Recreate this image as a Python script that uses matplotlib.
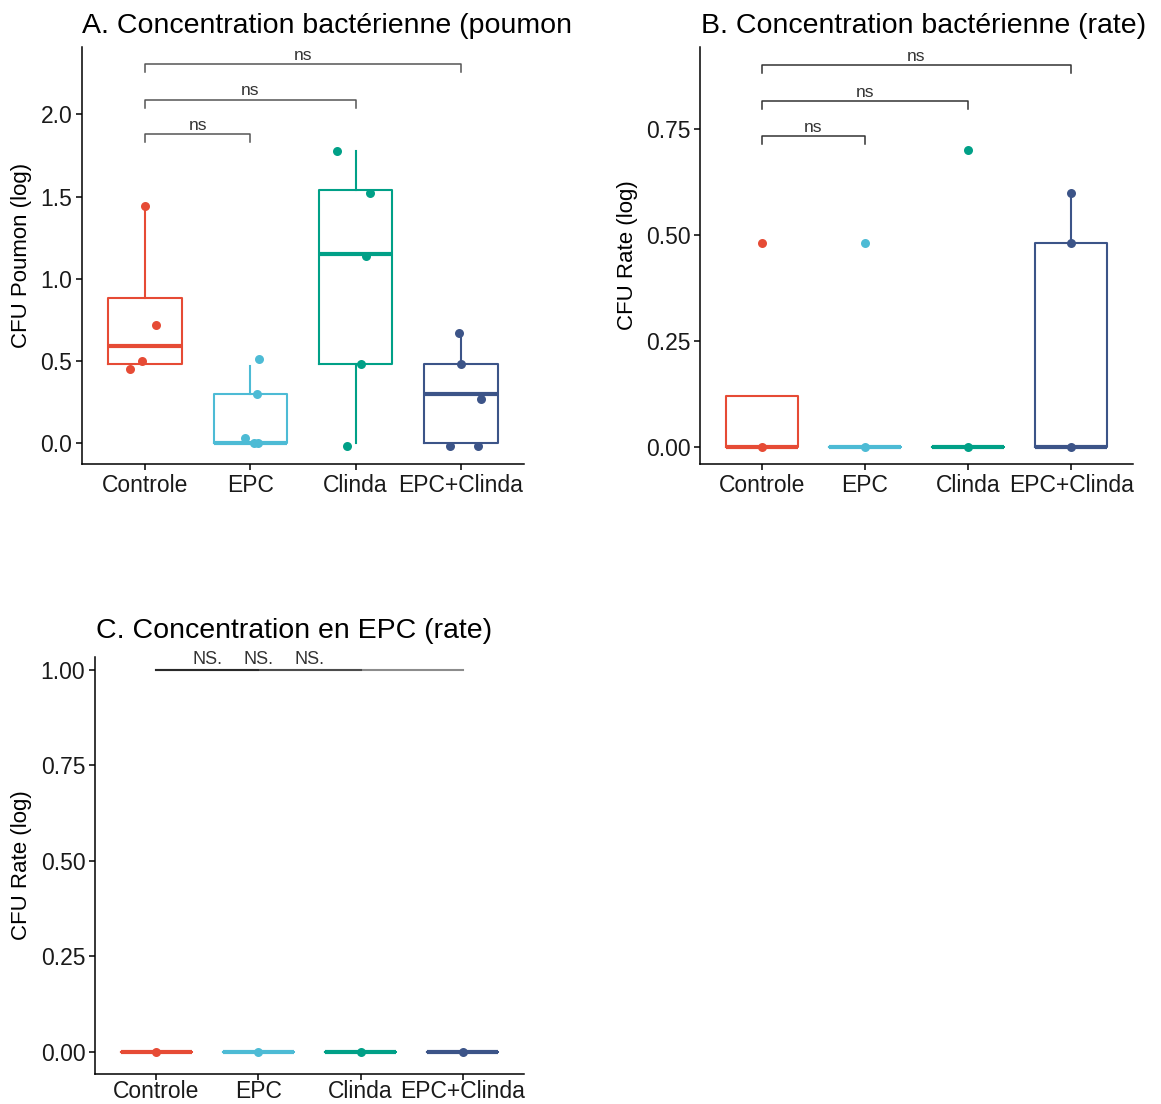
import numpy as np
import matplotlib.pyplot as plt
from matplotlib.transforms import Bbox, TransformedBbox

plt.rcParams['font.family'] = ['Liberation Sans', 'DejaVu Sans']

groupes = ['Controle', 'EPC', 'Clinda', 'EPC+Clinda']
couleurs = ['#E64B35', '#4DBBD5', '#00A087', '#3C5488']
paires = [(1, 2), (1, 3), (1, 4)]

# A. poumon
a_points = [[1.44, 0.72, 0.50, 0.45], [0.51, 0.30, 0.03, 0.0, 0.0],
            [1.78, 1.52, 1.14, 0.48, -0.02], [0.67, 0.48, 0.27, -0.02, -0.02]]
a_jitter = [[0.0, 0.10, -0.03, -0.14], [0.08, 0.06, -0.05, 0.03, 0.07],
            [-0.18, 0.14, 0.10, 0.05, -0.08], [-0.02, 0.0, 0.19, -0.10, 0.16]]
a_whislo = [0.48, 0.0, 0.0, 0.0]
a_q1 = [0.48, 0.0, 0.48, 0.0]
a_med = [0.59, 0.0, 1.15, 0.30]
a_q3 = [0.88, 0.30, 1.54, 0.48]
a_whishi = [1.44, 0.47, 1.78, 0.67]
a_crochets = [1.88, 2.09, 2.305]

# B. rate bactérienne
b_points = [[0.48, 0.0], [0.48, 0.0], [0.70, 0.0], [0.60, 0.48, 0.0]]
b_jitter = [[0.0, 0.0], [0.0, 0.0], [0.0, 0.0], [0.0, 0.0, 0.0]]
b_whislo = [0.0, 0.0, 0.0, 0.0]
b_q1 = [0.0, 0.0, 0.0, 0.0]
b_med = [0.0, 0.0, 0.0, 0.0]
b_q3 = [0.12, 0.0, 0.0, 0.48]
b_whishi = [0.12, 0.0, 0.0, 0.60]
b_crochets = [0.733, 0.816, 0.90]

# C. EPC rate
c_points = [[0.0], [0.0], [0.0], [0.0]]
c_jitter = [[0.0], [0.0], [0.0], [0.0]]
c_zero = [0.0, 0.0, 0.0, 0.0]
c_crochets = [1.0, 1.0, 1.0]

W, H = 1161, 1104
fig = plt.figure(figsize=(W / 100, H / 100), dpi=100)


def panneau(rect, points, jitter, whislo, q1, med, q3, whishi, ylim, yticks, fmt,
            crochets, hauteur_tick, txt, txt_col, ylabel, ylab_x, xpad=3):
    x0, x1, ytop, ybot = rect
    ax = fig.add_axes([x0 / W, 1 - ybot / H, (x1 - x0) / W, (ybot - ytop) / H])
    stats = []
    for i in range(4):
        stats.append(dict(whislo=whislo[i], q1=q1[i], med=med[i], q3=q3[i], whishi=whishi[i]))
    pos = np.arange(1, 5)
    bp = ax.bxp(stats, positions=pos, widths=0.7, showfliers=False, showcaps=False)
    for i, c in enumerate(couleurs):
        bp['boxes'][i].set(color=c, linewidth=1.5)
        bp['medians'][i].set(color=c, linewidth=3, solid_capstyle='butt')
        for w in bp['whiskers'][2 * i:2 * i + 2]:
            w.set(color=c, linewidth=1.5)
        ax.scatter(pos[i] + np.array(jitter[i]), points[i], s=42, color=c, zorder=5,
                   linewidths=0)
    for (g1, g2), h in zip(paires, crochets):
        if hauteur_tick > 0:
            ax.plot([g1, g1, g2, g2], [h - hauteur_tick, h, h, h - hauteur_tick],
                    color=txt_col, lw=1.1, zorder=4)
            ax.text((g1 + g2) / 2, h + hauteur_tick * 0.15, txt, ha='center', va='bottom',
                    fontsize=12.5, color='#333333')
        else:
            ax.plot([g1, g2], [h, h], color='black', alpha=0.45, lw=1.5, zorder=4)
            ax.text((g1 + g2) / 2, h + 0.004, txt, ha='center', va='bottom',
                    fontsize=13, color='#333333')
    ax.set_xlim(0.4, 4.6)
    ax.set_ylim(*ylim)
    ax.set_xticks(pos)
    ax.set_xticklabels(groupes)
    ax.set_yticks(yticks)
    ax.set_yticklabels([fmt.format(v) for v in yticks])
    for s in ['top', 'right']:
        ax.spines[s].set_visible(False)
    for s in ['left', 'bottom']:
        ax.spines[s].set_linewidth(1.1)
    ax.tick_params(length=4, width=1.1, labelsize=16.5, pad=3, labelcolor='#1a1a1a')
    ax.tick_params(axis='x', pad=xpad)
    ax.set_ylabel(ylabel, fontsize=16)
    ax.yaxis.set_label_coords((ylab_x - x0) / (x1 - x0), 0.5)
    return ax


axA = panneau((82, 524, 47, 464), a_points, a_jitter, a_whislo, a_q1, a_med, a_q3, a_whishi,
              (-0.128, 2.41), [0.0, 0.5, 1.0, 1.5, 2.0], '{:.1f}', a_crochets, 0.05, 'ns',
              '#555555', 'CFU Poumon (log)', 32)
axB = panneau((700, 1133, 47, 464), b_points, b_jitter, b_whislo, b_q1, b_med, b_q3, b_whishi,
              (-0.04, 0.943), [0.0, 0.25, 0.5, 0.75], '{:.2f}', b_crochets, 0.019, 'ns',
              '#333333', 'CFU Rate (log)', 638)
axC = panneau((95, 524, 657, 1074), c_points, c_jitter, c_zero, c_zero, c_zero, c_zero, c_zero,
              (-0.058, 1.034), [0.0, 0.25, 0.5, 0.75, 1.0], '{:.2f}', c_crochets, 0, 'NS.',
              '#333333', 'CFU Rate (log)', 32, xpad=0)

tA = fig.text(82 / W, 1 - 33 / H, 'A. Concentration bactérienne (poumon)', fontsize=20.5,
              va='baseline', ha='left')
tA.set_clip_box(TransformedBbox(Bbox([[0, 0], [572 / W, 1]]), fig.transFigure))
tA.set_clip_on(True)
fig.text(701 / W, 1 - 33 / H, 'B. Concentration bactérienne (rate)', fontsize=20.5,
         va='baseline', ha='left')
fig.text(96 / W, 1 - 638 / H, 'C. Concentration en EPC (rate)', fontsize=20.5,
         va='baseline', ha='left')

fig.savefig('out.png', dpi=100)
